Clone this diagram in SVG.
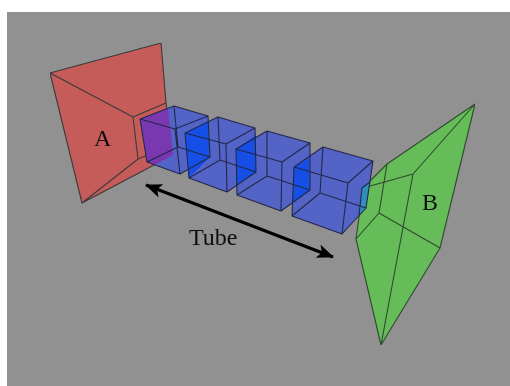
<svg xmlns="http://www.w3.org/2000/svg" width="510" height="386" viewBox="0 0 510 386">
<defs>
<style>
.e{fill:none;stroke:#23284a;stroke-width:1.1;stroke-linejoin:round;stroke-linecap:round}
.r{fill:#c65c5a}.g{fill:#65bc58}.b{fill:#5364c6}
.o{fill:#1250e6}.p{fill:#7a38b0}.t{fill:#2f90b8}
.l{font-family:"Liberation Serif","Times New Roman",serif;font-size:24px;fill:#111}
.a{stroke:#000;stroke-width:3;fill:none}
</style>
<filter id="soft" x="0" y="0" width="100%" height="100%"><feGaussianBlur stdDeviation="0.4"/></filter>
<marker id="h" viewBox="0 0 17 14" refX="16" refY="7" markerWidth="17" markerHeight="14" markerUnits="userSpaceOnUse" orient="auto-start-reverse"><path d="M0 0L17 7L0 14L4 7Z" fill="#000"/></marker>
</defs>
<rect x="7" y="12" width="503" height="374" fill="#919191"/>
<g filter="url(#soft)">
<g id="funnel-a">
<path class="r" d="M50 73L161 43L166 103L173 155L82 203Z"/>
<path class="e" style="stroke:#3a3a3a" d="M50 73L161 43L166 103L173 155L82 203Z M50 73L133 117L166 103 M133 117L138 159L172 145 M138 159L82 203"/>
</g>
<g id="funnel-b">
<path class="g" d="M475 104L440 248L381 345L356 239L363 188L387 164Z"/>
<path class="e" style="stroke:#2f4a2f" d="M475 104L440 248L381 345L356 239L363 188L387 164Z M363 188L413 174L475 104 M387 164L379 213L356 239 M379 213L440 248 M413 174L381 345"/>
</g>
<g id="cube-1">
<path class="b" d="M140 119L174 106L208 116L210 157L180 174L147 162Z"/>
<path class="p" d="M140 119L168 108L173 155L155 165L147 162Z"/>
</g>
<g id="cube-2">
<path class="b" d="M185 133L218 117L255 128L256 172L227 192L189 178Z"/>
<path class="o" d="M185 133L208 122L210 157L189 178Z"/>
</g>
<g id="cube-3">
<path class="b" d="M236 149L267 131L310 143L310 190L281 211L237 195Z"/>
<path class="o" d="M236 149L256 135L256 172L237 184Z"/>
</g>
<g id="cube-4">
<path class="b" d="M294 167L323 147L373 161L366 208L342 234L292 216Z"/>
<path class="o" d="M294 167L309 158L310 190L293 202Z"/>
<path class="t" d="M362 188L370 182L366 208L359 215Z"/>
</g>
<g id="connectors">
<path class="e" d="M140 119L174 106L208 116L175 129Z M140 119L147 162L180 174L175 129 M208 116L210 157L180 174 M174 106L178 147L147 162 M178 147L210 157"/>
<path class="e" d="M185 133L218 117L255 128L226 144Z M185 133L189 178L227 192L226 144 M255 128L256 172L227 192 M218 117L220 160L189 178 M220 160L256 172"/>
<path class="e" d="M236 149L267 131L310 143L282 162Z M236 149L237 195L281 211L282 162 M310 143L310 190L281 211 M267 131L267 176L237 195 M267 176L310 190"/>
<path class="e" d="M294 167L323 147L373 161L348 183Z M294 167L292 216L342 234L348 183 M373 161L366 208L342 234 M323 147L320 193L292 216 M320 193L366 208"/>
<path class="e" d="M362 188L370 182M362 188L359 215"/>
<path class="a" marker-start="url(#h)" marker-end="url(#h)" d="M146 185L333 257"/>
</g>
<text class="l" x="94" y="146">A</text>
<text class="l" x="422" y="210">B</text>
<text class="l" x="189" y="245">Tube</text>
</g>
</svg>
